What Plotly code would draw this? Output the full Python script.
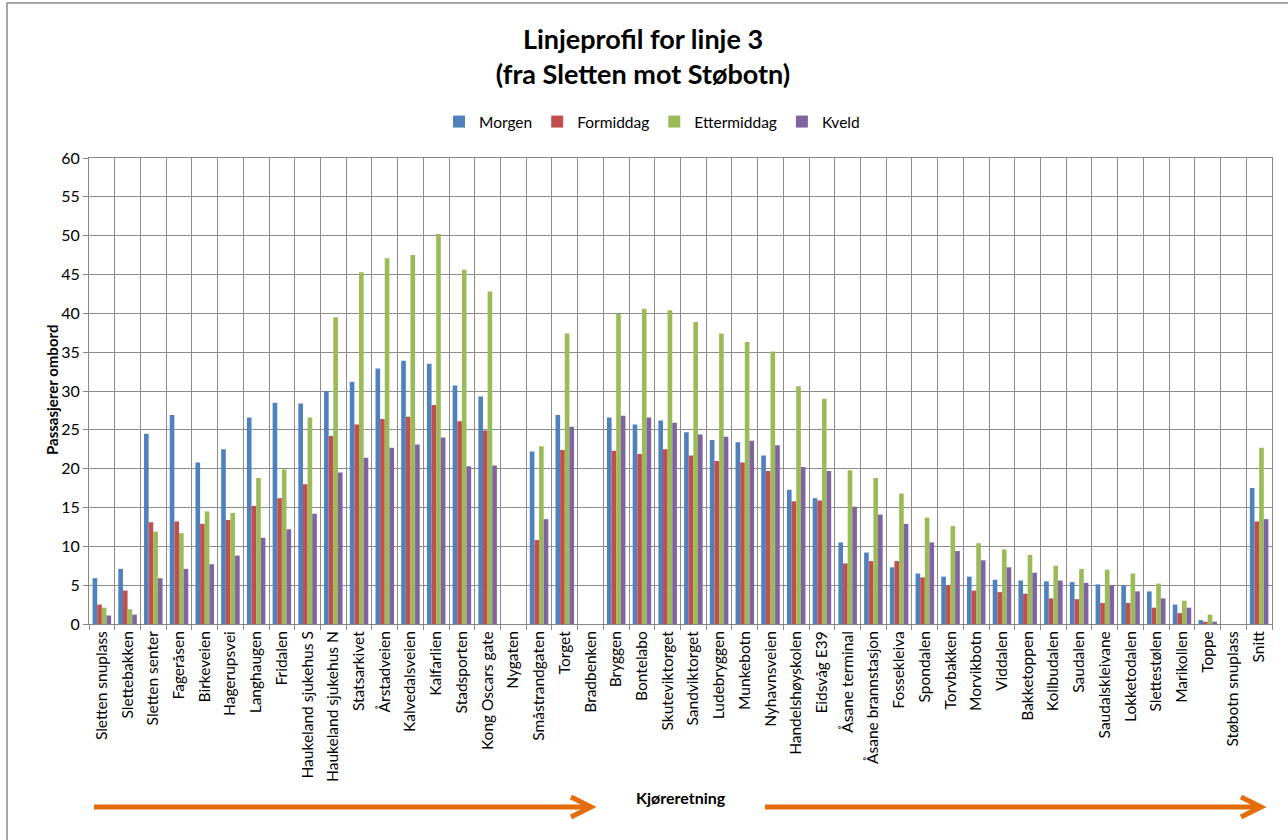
import plotly.graph_objects as go

stops = ["Sletten snuplass", "Slettebakken", "Sletten senter", "Fageråsen", "Birkeveien",
         "Hagerupsvei", "Langhaugen", "Fridalen", "Haukeland sjukehus S", "Haukeland sjukehus N",
         "Statsarkivet", "Årstadveien", "Kalvedalsveien", "Kalfarlien", "Stadsporten",
         "Kong Oscars gate", "Nygaten", "Småstrandgaten", "Torget", "Bradbenken",
         "Bryggen", "Bontelabo", "Skuteviktorget", "Sandviktorget", "Ludebryggen",
         "Munkebotn", "Nyhavnsveien", "Handelshøyskolen", "Eidsvåg E39", "Åsane terminal",
         "Åsane brannstasjon", "Fossekleiva", "Spondalen", "Torvbakken", "Morvikbotn",
         "Viddalen", "Bakketoppen", "Kollbudalen", "Saudalen", "Saudalskleivane",
         "Lokketodalen", "Slettestølen", "Marikollen", "Toppe", "Støbotn snuplass", "Snitt"]

morgen = [5.9, 7.1, 24.5, 26.9, 20.8, 22.5, 26.6, 28.5, 28.4, 30.0,
          31.2, 32.9, 33.9, 33.5, 30.7, 29.3, 0, 22.2, 26.9, 0,
          26.6, 25.7, 26.2, 24.7, 23.7, 23.4, 21.7, 17.3, 16.2, 10.5,
          9.2, 7.3, 6.5, 6.1, 6.1, 5.7, 5.6, 5.5, 5.4, 5.1,
          5.0, 4.2, 2.5, 0.5, 0, 17.5]
formiddag = [2.5, 4.3, 13.1, 13.2, 12.9, 13.4, 15.2, 16.2, 18.0, 24.2,
             25.7, 26.4, 26.7, 28.2, 26.1, 24.9, 0, 10.8, 22.4, 0,
             22.3, 21.9, 22.5, 21.7, 21.0, 20.8, 19.7, 15.8, 15.9, 7.8,
             8.1, 8.1, 6.0, 5.0, 4.3, 4.1, 3.9, 3.3, 3.2, 2.7,
             2.7, 2.1, 1.4, 0.3, 0, 13.2]
ettermiddag = [2.1, 1.9, 11.9, 11.7, 14.5, 14.3, 18.8, 19.9, 26.6, 39.5,
               45.3, 47.1, 47.5, 50.2, 45.6, 42.8, 0, 22.9, 37.4, 0,
               39.9, 40.6, 40.4, 38.9, 37.4, 36.3, 35.1, 30.6, 29.0, 19.8,
               18.8, 16.8, 13.7, 12.6, 10.4, 9.6, 8.9, 7.5, 7.1, 7.0,
               6.5, 5.2, 3.0, 1.2, 0, 22.7]
kveld = [1.1, 1.2, 5.9, 7.1, 7.7, 8.8, 11.1, 12.2, 14.2, 19.5,
         21.4, 22.7, 23.1, 24.0, 20.3, 20.4, 0, 13.5, 25.4, 0,
         26.8, 26.6, 25.9, 24.4, 24.1, 23.6, 23.0, 20.2, 19.7, 15.1,
         14.1, 12.9, 10.5, 9.4, 8.2, 7.3, 6.6, 5.6, 5.3, 5.0,
         4.2, 3.3, 2.1, 0.3, 0, 13.5]

series = [("Morgen", morgen, "#4F81BD"), ("Formiddag", formiddag, "#C0504D"),
          ("Ettermiddag", ettermiddag, "#9BBB59"), ("Kveld", kveld, "#8064A2")]

W, H = 1288, 840
L, R, T, B = 89, 16, 158, 216
pw, ph = W - L - R, H - T - B


def px(x):
    return (x - L) / pw


def py(y):
    return (H - B - y) / ph


FONT = "Lato, 'Open Sans', sans-serif"
fig = go.Figure()
for name, vals, col in series:
    fig.add_trace(go.Bar(name=name, x=stops, y=vals, marker=dict(color=col, line=dict(width=0))))

orange = "#E46C0A"
shapes = [
    dict(type="rect", xref="paper", yref="paper", x0=px(7), x1=px(1300), y0=py(3), y1=py(860),
         line=dict(color="#8a8a8a", width=1.5), fillcolor="rgba(0,0,0,0)", layer="below"),
    dict(type="line", xref="paper", yref="paper", x0=px(94), x1=px(588), y0=py(807), y1=py(807),
         line=dict(color=orange, width=5)),
    dict(type="path", xref="paper", yref="paper",
         path=f"M {px(571)},{py(797)} L {px(591)},{py(807)} L {px(571)},{py(817)}",
         line=dict(color=orange, width=5)),
    dict(type="line", xref="paper", yref="paper", x0=px(765), x1=px(1258), y0=py(807), y1=py(807),
         line=dict(color=orange, width=5)),
    dict(type="path", xref="paper", yref="paper",
         path=f"M {px(1241)},{py(797)} L {px(1261)},{py(807)} L {px(1241)},{py(817)}",
         line=dict(color=orange, width=5)),
]

annotations = [
    dict(text="<b>Kjøreretning</b>", xref="paper", yref="paper", x=px(681), y=py(809),
         showarrow=False, font=dict(family=FONT, size=16, color="#000")),
    dict(text="<b>Passasjerer ombord</b>", xref="paper", yref="paper", x=px(41), y=py(390),
         textangle=-90, showarrow=False, font=dict(family=FONT, size=15, color="#000")),
]

fig.update_layout(
    width=W, height=H,
    margin=dict(l=L, r=R, t=T, b=B, autoexpand=False),
    paper_bgcolor="white", plot_bgcolor="white",
    title=dict(text="<b>Linjeprofil for linje 3<br>(fra Sletten mot Støbotn)</b>",
               x=px(643), xref="paper", xanchor="center", y=1 - 49 / H, yanchor="middle",
               font=dict(family=FONT, size=27, color="#000")),
    barmode="group", bargap=0.28, bargroupgap=0,
    legend=dict(orientation="h", x=px(652), xref="paper", xanchor="center", y=py(122), yanchor="middle",
                font=dict(family=FONT, size=15.5, color="#000"), itemwidth=30, traceorder="normal",
                bgcolor="rgba(0,0,0,0)"),
    font=dict(family=FONT, color="#000"),
    shapes=shapes, annotations=annotations,
)
fig.update_xaxes(type="category", tickangle=-90, tickson="boundaries", ticks="outside", ticklen=5,
                 tickcolor="#868686", showgrid=True, gridcolor="#8c8c8c", gridwidth=1,
                 showline=True, linecolor="#868686", linewidth=1, mirror=True,
                 tickfont=dict(family=FONT, size=15.5, color="#000"), automargin=False)
fig.update_yaxes(range=[0, 60], dtick=5, showgrid=True, gridcolor="#8c8c8c", gridwidth=1,
                 ticks="outside", ticklen=5, tickcolor="#868686",
                 showline=True, linecolor="#868686", linewidth=1, mirror=True, zeroline=False,
                 tickfont=dict(family=FONT, size=16, color="#000"), automargin=False)

fig.write_html("out.html", config={"displayModeBar": False},
               post_script="document.body.style.margin='0';document.body.style.overflow='hidden';")
